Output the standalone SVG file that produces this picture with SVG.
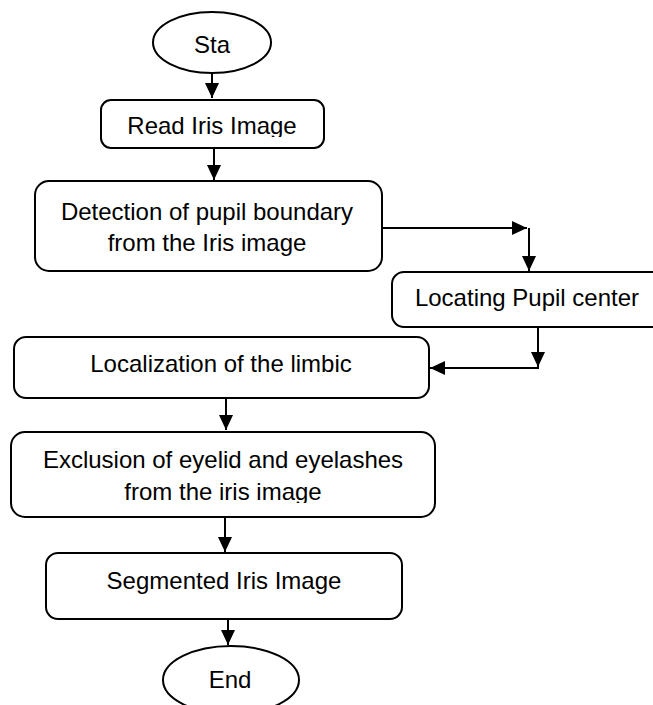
<svg xmlns="http://www.w3.org/2000/svg" width="653" height="705" viewBox="0 0 653 705">
<style>
.box{fill:#fff;stroke:#000;stroke-width:2}
.t{font-family:"Liberation Sans",Arial,sans-serif;font-size:24px;fill:#000;text-anchor:middle}
.c{fill:none;stroke:#000;stroke-width:2}
</style>
<defs>
<marker id="ah" markerUnits="userSpaceOnUse" markerWidth="16" markerHeight="16" viewBox="0 0 16 16" refX="15" refY="8" orient="auto">
<path d="M0,1 L15,8 L0,15 Z" fill="#000"/>
</marker>
<clipPath id="clipRead"><rect x="0" y="0" width="653" height="137"/></clipPath>
<clipPath id="clipExcl"><rect x="0" y="0" width="653" height="503"/></clipPath>
</defs>
<rect width="653" height="705" fill="#fff"/>
<g id="connectors">
<path class="c" d="M212,73 V98" marker-end="url(#ah)"/>
<path class="c" d="M214,148 V180" marker-end="url(#ah)"/>
<path class="c" d="M382,228 H527" marker-end="url(#ah)"/>
<path class="c" d="M529,228 V271" marker-end="url(#ah)"/>
<path class="c" d="M538,327 V367" marker-end="url(#ah)"/>
<path class="c" d="M539,368 H430" marker-end="url(#ah)"/>
<path class="c" d="M226,398 V430" marker-end="url(#ah)"/>
<path class="c" d="M225,517 V552" marker-end="url(#ah)"/>
<path class="c" d="M228,619 V645" marker-end="url(#ah)"/>
</g>
<g id="start">
<ellipse class="box" cx="212" cy="42.5" rx="59" ry="30.5"/>
<text class="t" x="212" y="53">Sta</text>
</g>
<g id="read">
<rect class="box" x="101" y="100" width="223" height="48" rx="10"/>
<text class="t" x="212" y="134" clip-path="url(#clipRead)">Read Iris Image</text>
</g>
<g id="detection">
<rect class="box" x="35" y="181" width="347" height="90" rx="14"/>
<text class="t" x="207" y="220">Detection of pupil boundary</text>
<text class="t" x="207" y="251">from the Iris image</text>
</g>
<g id="locating">
<rect class="box" x="392" y="272" width="272" height="55" rx="12"/>
<text class="t" x="527" y="306">Locating Pupil center</text>
</g>
<g id="localization">
<rect class="box" x="14" y="337" width="415" height="61" rx="12"/>
<text class="t" x="221" y="372">Localization of the limbic</text>
</g>
<g id="exclusion">
<rect class="box" x="11" y="432" width="424" height="85" rx="14"/>
<text class="t" x="223" y="468">Exclusion of eyelid and eyelashes</text>
<text class="t" x="223" y="500" clip-path="url(#clipExcl)">from the iris image</text>
</g>
<g id="segmented">
<rect class="box" x="46" y="553" width="356" height="66" rx="12"/>
<text class="t" x="224" y="589">Segmented Iris Image</text>
</g>
<g id="end">
<ellipse class="box" cx="231" cy="680" rx="68" ry="34"/>
<text class="t" x="230" y="688">End</text>
</g>
</svg>
